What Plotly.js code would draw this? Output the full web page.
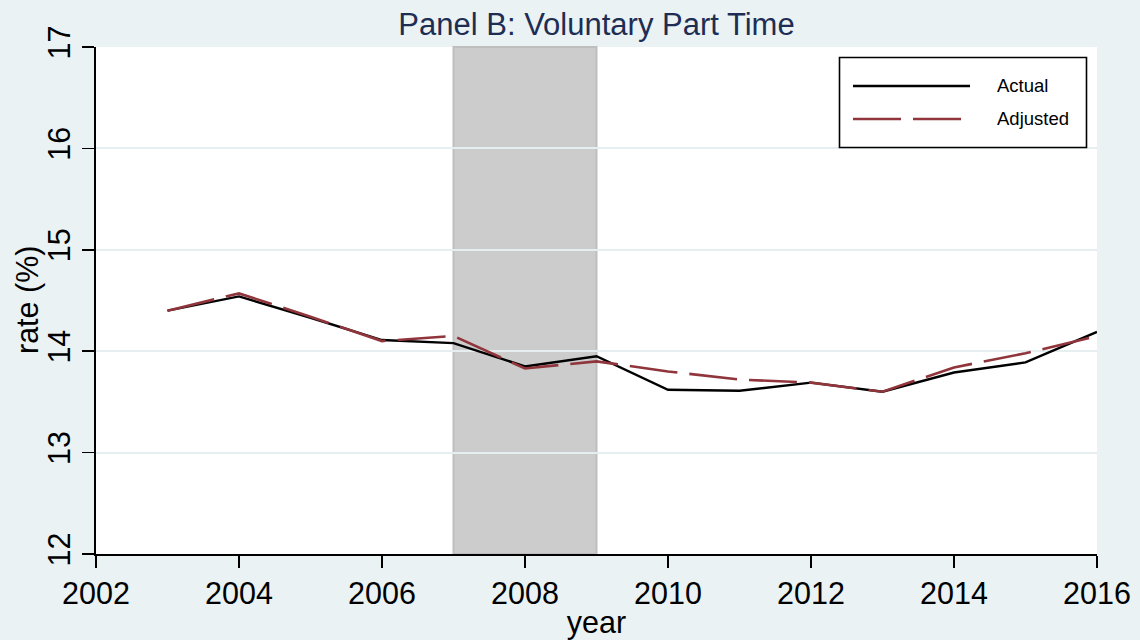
<!DOCTYPE html>
<html>
<head>
<meta charset="utf-8">
<script src="https://cdn.plot.ly/plotly-3.0.1.min.js"></script>
<style>html,body{margin:0;padding:0;background:#EAF2F3;}#chart{width:1140px;height:640px;}</style>
</head>
<body>
<div id="chart"></div>
<script>
// ---- data ----
const years = [2003, 2004, 2005, 2006, 2007, 2008, 2009, 2010, 2011, 2012, 2013, 2014, 2015, 2016];
const actual = [14.40, 14.54, 14.33, 14.11, 14.08, 13.85, 13.95, 13.62, 13.61, 13.69, 13.60, 13.79, 13.89, 14.19];
const adjusted = [14.40, 14.57, 14.34, 14.10, 14.15, 13.83, 13.90, 13.80, 13.72, 13.69, 13.60, 13.84, 13.98, 14.15];
const recession = [2007, 2009];
const seriesNames = ["Actual", "Adjusted"];
const xTicks = [2002, 2004, 2006, 2008, 2010, 2012, 2014, 2016];
const yTicks = [12, 13, 14, 15, 16, 17];
const titleText = "Panel B: Voluntary Part Time";
const xTitle = "year";
const yTitle = "rate (%)";

// ---- layout helpers ----
const W = 1140, H = 640;
const M = {l: 96, r: 43, t: 47, b: 86};
const pw = W - M.l - M.r, ph = H - M.t - M.b;
const fx = px => (px - M.l) / pw;
const fy = py => (H - M.b - py) / ph;
const FONT = '"Liberation Sans", Arial, sans-serif';
const colors = ["#000000", "#90353B"];
const dashes = ["solid", "48px,12px"];
const widths = [2.4, 2.6];

const traces = [
  {x: years, y: actual, name: seriesNames[0], type: "scatter", mode: "lines",
   line: {color: colors[0], width: widths[0], dash: dashes[0]}},
  {x: years, y: adjusted, name: seriesNames[1], type: "scatter", mode: "lines",
   line: {color: colors[1], width: widths[1], dash: dashes[1]}}
];

const shapes = [
  {type: "rect", xref: "x", yref: "paper", x0: recession[0], x1: recession[1], y0: 0, y1: 1,
   fillcolor: "#CCCCCC", line: {color: "#BEBEBE", width: 2}, layer: "between"},
  // legend box
  {type: "rect", xref: "paper", yref: "paper", x0: fx(839.5), x1: fx(1086.5), y0: fy(147.5), y1: fy(57.5),
   fillcolor: "#FFFFFF", line: {color: "#000000", width: 1.6}, layer: "above"},
  {type: "line", xref: "paper", yref: "paper", x0: fx(853), x1: fx(970), y0: fy(86), y1: fy(86),
   line: {color: colors[0], width: widths[0], dash: dashes[0]}, layer: "above"},
  {type: "line", xref: "paper", yref: "paper", x0: fx(853), x1: fx(962), y0: fy(119), y1: fy(119),
   line: {color: colors[1], width: widths[1], dash: dashes[1]}, layer: "above"}
];

const annotations = [
  {xref: "paper", yref: "paper", x: fx(995), y: fy(86), text: seriesNames[0], showarrow: false,
   xanchor: "left", yanchor: "middle", font: {family: FONT, size: 18.5, color: "#000"}},
  {xref: "paper", yref: "paper", x: fx(995), y: fy(119), text: seriesNames[1], showarrow: false,
   xanchor: "left", yanchor: "middle", font: {family: FONT, size: 18.5, color: "#000"}},
  // y-axis title
  {xref: "paper", yref: "paper", x: fx(27), y: fy(300), text: yTitle, showarrow: false, textangle: -90,
   xanchor: "center", yanchor: "middle", font: {family: FONT, size: 30.5, color: "#000"}}
];

const layout = {
  width: W, height: H,
  margin: M,
  paper_bgcolor: "#EAF2F3",
  plot_bgcolor: "#FFFFFF",
  showlegend: false,
  font: {family: FONT, size: 30, color: "#000"},
  title: {text: titleText, x: 0.5, xref: "paper", y: 1 - 24 / H, yref: "container", yanchor: "middle",
          font: {family: FONT, size: 31, color: "#1E2D53"}},
  xaxis: {
    range: [2002, 2016], tickvals: xTicks, ticktext: xTicks.map(String),
    showgrid: false, zeroline: false, showline: true, linecolor: "#000", linewidth: 1.8,
    ticks: "outside", ticklen: 12, tickwidth: 1.6, tickcolor: "#000",
    tickfont: {family: FONT, size: 30.5, color: "#000"},
    title: {text: xTitle, font: {family: FONT, size: 30.5, color: "#000"}, standoff: 4},
    automargin: false
  },
  yaxis: {
    range: [12, 17], tickvals: yTicks, ticktext: yTicks.map(String), tickangle: -90,
    showgrid: true, gridcolor: "#E6EEF0", gridwidth: 2, zeroline: false,
    showline: true, linecolor: "#000", linewidth: 1.8,
    ticks: "outside", ticklen: 12, tickwidth: 1.6, tickcolor: "#000",
    tickfont: {family: FONT, size: 30.5, color: "#000"},
    automargin: false
  },
  shapes: shapes,
  annotations: annotations
};

Plotly.newPlot("chart", traces, layout, {displayModeBar: false, staticPlot: true});
</script>
</body>
</html>
